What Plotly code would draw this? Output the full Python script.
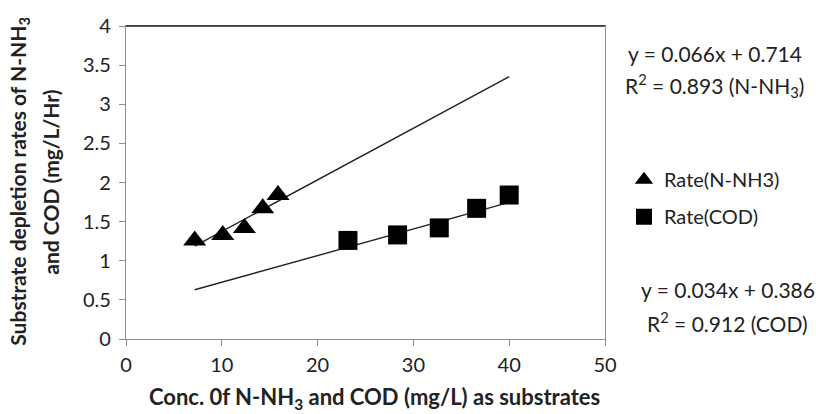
import plotly.graph_objects as go

# Data
nh3_conc = [7.17, 10.1, 12.36, 14.27, 15.87]
nh3_rate = [1.26, 1.33, 1.42, 1.67, 1.84]
cod_conc = [23.17, 28.35, 32.7, 36.6, 40.0]
cod_rate = [1.26, 1.33, 1.42, 1.67, 1.84]

nh3_fit = (0.066, 0.714)   # slope, intercept
cod_fit = (0.034, 0.386)

x_ticks = [0, 10, 20, 30, 40, 50]
y_ticks = [0, 0.5, 1, 1.5, 2, 2.5, 3, 3.5, 4]

FONT = "Lato"
W, H = 816, 414
L, R, T, B = 125.5, 211, 25.5, 74.7
pw = W - L - R
ph = H - T - B

def px(xp):
    return (xp - L) / pw

def py(yp):
    return (H - B - yp) / ph

xmin = min(nh3_conc + cod_conc)
xmax = max(nh3_conc + cod_conc)
line_x = [xmin, xmax]

fig = go.Figure()

fig.add_trace(go.Scatter(x=line_x, y=[nh3_fit[0] * v + nh3_fit[1] for v in line_x],
                         mode="lines", line=dict(color="#222", width=1.4),
                         showlegend=False, hoverinfo="skip"))
fig.add_trace(go.Scatter(x=line_x, y=[cod_fit[0] * v + cod_fit[1] for v in line_x],
                         mode="lines", line=dict(color="#222", width=1.4),
                         showlegend=False, hoverinfo="skip"))

fig.add_trace(go.Scatter(x=nh3_conc, y=nh3_rate, mode="markers", name="Rate(N-NH3)",
                         legendgroup="a",
                         marker=dict(symbol="triangle-up", size=20, color="black")))
fig.add_trace(go.Scatter(x=cod_conc, y=cod_rate, mode="markers", name="Rate(COD)",
                         legendgroup="b",
                         marker=dict(symbol="square", size=19, color="black")))

axis_common = dict(showgrid=False, zeroline=False, showline=True, linecolor="#8c8c8c",
                   linewidth=1.3, mirror=True, ticks="outside", ticklen=6,
                   tickcolor="#8c8c8c", tickwidth=1.3,
                   tickfont=dict(family=FONT, size=20, color="#222"))

fig.update_xaxes(range=[0, 50], tickvals=x_ticks, ticktext=[str(v) for v in x_ticks],
                 ticklabelstandoff=2, **axis_common)
fig.update_yaxes(range=[0, 4], tickvals=y_ticks, ticktext=[f"{v:g}" for v in y_ticks],
                 ticklabelstandoff=4, **axis_common)

# darker top border as in reference
fig.add_shape(type="line", xref="paper", yref="paper", x0=0, x1=1, y0=1, y1=1,
              line=dict(color="#222", width=1.3))

annots = [
    dict(text="<b>Conc. 0f N-NH<sub>3</sub> and COD (mg/L) as substrates</b>",
         x=px(374), y=py(398), size=22, angle=0),
    dict(text="<b>Substrate depletion rates of N-NH<sub>3</sub></b>",
         x=px(18), y=py(181), size=21, angle=-90),
    dict(text="<b>and COD (mg/L/Hr)</b>",
         x=px(50), y=py(182), size=21, angle=-90),
    dict(text="y = 0.066x + 0.714", x=px(715), y=py(53), size=21, angle=0),
    dict(text="R<sup>2</sup> = 0.893 (N-NH<sub>3</sub>)", x=px(715), y=py(85), size=21, angle=0),
    dict(text="y = 0.034x + 0.386", x=px(728), y=py(290), size=21, angle=0),
    dict(text="R<sup>2</sup> = 0.912 (COD)", x=px(728), y=py(322), size=21, angle=0),
]
for a in annots:
    fig.add_annotation(text=a["text"], x=a["x"], y=a["y"], xref="paper", yref="paper",
                       showarrow=False, xanchor="center", yanchor="middle",
                       textangle=a["angle"],
                       font=dict(family=FONT, size=a["size"], color="#222"))

fig.update_layout(
    width=W, height=H,
    margin=dict(l=L, r=R, t=T, b=B, pad=0),
    paper_bgcolor="white", plot_bgcolor="white",
    font=dict(family=FONT, color="#222"),
    legend=dict(x=px(624), y=py(160), xanchor="left", yanchor="top",
                font=dict(family=FONT, size=20, color="#222"),
                bgcolor="rgba(0,0,0,0)", tracegroupgap=8, itemwidth=30,
                traceorder="grouped"),
)

fig.write_html("out.html")
